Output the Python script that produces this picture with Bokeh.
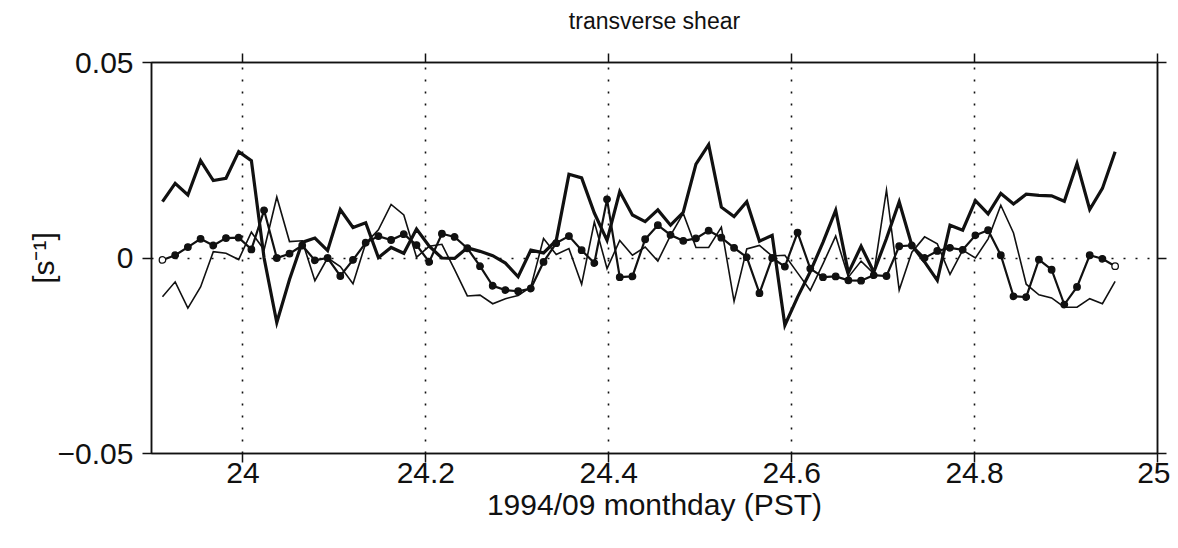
from bokeh.plotting import figure
from bokeh.models import LinearAxis, FixedTicker, Range1d, ColumnDataSource
from bokeh.embed import file_html
from bokeh.resources import INLINE

# ---- data -------------------------------------------------------------
t_start = 23.912          # first sample (monthday)
t_step = 1.0 / 72.0       # 20-minute sampling
n_samples = 76
monthday = [t_start + k * t_step for k in range(n_samples)]

shear_thick = [
    0.0144, 0.0191, 0.0161, 0.0249, 0.0198, 0.0204, 0.0272, 0.0249, 0.0000, -0.0165,
    -0.0055, 0.0040, 0.0051, 0.0019, 0.0124, 0.0078, 0.0090, 0.0001, 0.0027, 0.0012,
    0.0074, 0.0030, 0.0000, -0.0001, 0.0026, 0.0017, 0.0006, -0.0013, -0.0048, 0.0020,
    0.0013, 0.0045, 0.0214, 0.0205, 0.0115, 0.0045, 0.0170, 0.0110, 0.0093, 0.0123,
    0.0084, 0.0117, 0.0240, 0.0290, 0.0130, 0.0106, 0.0144, 0.0043, 0.0058, -0.0172,
    -0.0100, -0.0035, 0.0040, 0.0122, -0.0038, 0.0030, -0.0036, 0.0050, 0.0144, 0.0032,
    -0.0010, -0.0057, 0.0084, 0.0071, 0.0147, 0.0113, 0.0165, 0.0138, 0.0163, 0.0160,
    0.0159, 0.0145, 0.0242, 0.0124, 0.0178, 0.0272,
]

shear_thin = [
    -0.0099, -0.0061, -0.0128, -0.0074, 0.0016, 0.0012, -0.0004, 0.0066, 0.0021, 0.0156,
    0.0042, 0.0044, -0.0058, 0.0000, -0.0022, -0.0066, 0.0038, 0.0072, 0.0137, 0.0110,
    0.0002, 0.0030, 0.0035, -0.0030, -0.0097, -0.0095, -0.0117, -0.0104, -0.0096, -0.0074,
    0.0050, 0.0009, 0.0024, -0.0067, 0.0092, -0.0027, 0.0045, 0.0007, 0.0028, -0.0008,
    0.0058, 0.0114, 0.0027, 0.0027, 0.0079, -0.0111, 0.0023, 0.0032, 0.0005, 0.0007,
    -0.0038, -0.0083, -0.0015, 0.0056, -0.0049, -0.0008, -0.0040, 0.0174, -0.0082, 0.0015,
    0.0054, 0.0036, -0.0042, 0.0020, 0.0000, 0.0049, 0.0135, 0.0064, -0.0067, -0.0094,
    -0.0102, -0.0126, -0.0126, -0.0104, -0.0117, -0.0060,
]

shear_dots = [
    -0.0005, 0.0007, 0.0028, 0.0049, 0.0032, 0.0051, 0.0052, 0.0022, 0.0122, 0.0000,
    0.0011, 0.0032, -0.0006, 0.0000, -0.0046, -0.0005, 0.0039, 0.0056, 0.0046, 0.0061,
    0.0033, -0.0010, 0.0062, 0.0054, 0.0025, -0.0021, -0.0071, -0.0082, -0.0085, -0.0078,
    -0.0010, 0.0038, 0.0056, 0.0020, -0.0013, 0.0150, -0.0049, -0.0047, 0.0048, 0.0084,
    0.0059, 0.0044, 0.0050, 0.0070, 0.0052, 0.0026, 0.0002, -0.0090, 0.0000, -0.0022,
    0.0065, -0.0027, -0.0049, -0.0047, -0.0057, -0.0058, -0.0044, -0.0046, 0.0030, 0.0032,
    0.0000, 0.0018, 0.0026, 0.0021, 0.0058, 0.0071, 0.0007, -0.0098, -0.0100, -0.0004,
    -0.0030, -0.0119, -0.0074, 0.0007, -0.0002, -0.0021,
]

x_ticks = [24, 24.2, 24.4, 24.6, 24.8, 25]
x_tick_labels = ["24", "24.2", "24.4", "24.6", "24.8", "25"]
y_ticks = [-0.05, 0, 0.05]
y_tick_labels = ["\u22120.05", "0", "0.05"]

title_text = "transverse shear"
x_label = "1994/09 monthday (PST)"
y_label = "[s\u207b\u00b9]"

# ---- figure -----------------------------------------------------------
FONT = "Liberation Sans"
INK = "#111111"

p = figure(
    width=1170, height=540,
    x_range=Range1d(23.9, 25.0), y_range=Range1d(-0.05, 0.05),
    output_backend="svg", toolbar_location=None,
    min_border_left=151, min_border_right=13, min_border_top=62, min_border_bottom=87,
    x_axis_location=None, y_axis_location=None,
)
p.background_fill_color = "white"
p.border_fill_color = "white"
p.outline_line_color = INK
p.outline_line_width = 1.5


def style_axis(ax, show_labels):
    ax.axis_line_color = INK
    ax.axis_line_width = 1.5
    ax.major_tick_line_color = INK
    ax.major_tick_line_width = 1.5
    ax.major_tick_out = 9
    ax.major_tick_in = 0
    ax.minor_tick_line_color = None
    ax.major_label_text_font = FONT
    ax.major_label_text_font_size = "30px"
    ax.major_label_text_color = INK
    ax.axis_label_text_font = FONT
    ax.axis_label_text_font_size = "30px"
    ax.axis_label_text_font_style = "normal"
    ax.axis_label_text_color = INK
    if not show_labels:
        ax.major_label_text_color = None
        ax.major_label_text_font_size = "2px"


xb = LinearAxis(ticker=FixedTicker(ticks=x_ticks),
                major_label_overrides=dict(zip(x_ticks, x_tick_labels)),
                axis_label=x_label)
style_axis(xb, True)
xb.major_label_standoff = 0
xb.axis_label_standoff = 2
p.add_layout(xb, "below")

# top axis: tick marks only, with the chart title as its label
xt = LinearAxis(ticker=FixedTicker(ticks=x_ticks),
                major_label_overrides={t: "" for t in x_ticks},
                axis_label=title_text)
style_axis(xt, False)
xt.major_label_standoff = 0
xt.axis_label_text_font_size = "23px"
xt.axis_label_standoff = 20
p.add_layout(xt, "above")

yl = LinearAxis(ticker=FixedTicker(ticks=y_ticks),
                major_label_overrides=dict(zip(y_ticks, y_tick_labels)),
                axis_label=y_label)
style_axis(yl, True)
yl.major_label_standoff = 9
yl.axis_label_standoff = -5
p.add_layout(yl, "left")

yr = LinearAxis(ticker=FixedTicker(ticks=y_ticks),
                major_label_overrides={t: "" for t in y_ticks})
style_axis(yr, False)
yr.major_label_standoff = 0
p.add_layout(yr, "right")

# dotted grid
p.xgrid.ticker = FixedTicker(ticks=x_ticks[:-1])
p.ygrid.ticker = FixedTicker(ticks=[0])
for g in (p.xgrid, p.ygrid):
    g.grid_line_color = INK
    g.grid_line_width = 1.6
    g.grid_line_dash = "2 10"

src = ColumnDataSource(dict(
    t=monthday, thick=shear_thick, thin=shear_thin, dots=shear_dots,
    fill=["white"] + [INK] * (n_samples - 2) + ["white"],
))

p.line("t", "thin", source=src, line_color=INK, line_width=1.6, line_join="miter")
p.line("t", "thick", source=src, line_color=INK, line_width=3.2, line_join="miter")
p.line("t", "dots", source=src, line_color=INK, line_width=2.2, line_join="miter")
p.scatter("t", "dots", source=src, marker="circle", size=6.5,
          fill_color="fill", line_color=INK, line_width=1.3)

open("out.html", "w").write(file_html(p, INLINE))
